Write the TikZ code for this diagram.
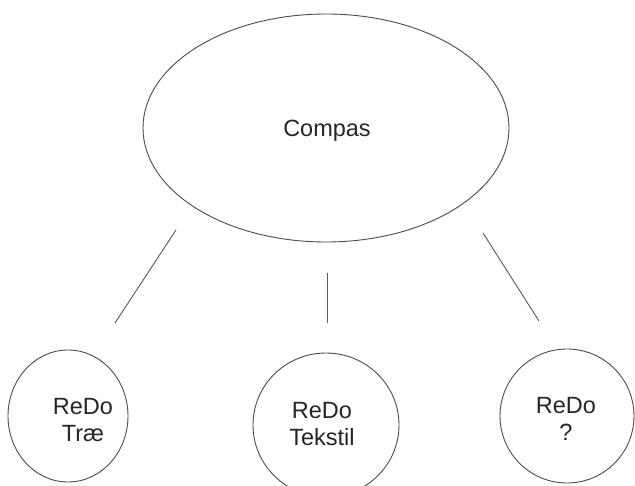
\documentclass[tikz,border=0pt]{standalone}
\usepackage{fontspec}
\setmainfont{Liberation Sans}
\usetikzlibrary{shapes.geometric}
\tikzset{
  shapeline/.style={draw=black!70, line width=0.9pt},
  bubble/.style={shapeline, ellipse, inner sep=0pt},
  lbl/.style={font=\fontsize{23.5}{27}\selectfont, text=black!85, align=center, inner sep=0pt},
  link/.style={draw=black!65, line width=0.9pt}
}
\begin{document}
\begin{tikzpicture}[x=1pt,y=-1pt]
\useasboundingbox (0,0) rectangle (635,486);
\fill[white] (0,0) rectangle (635,486);
% main ellipse
\node[bubble, minimum width=366pt, minimum height=228pt] (compas) at (326,128) {};
\node[lbl, anchor=base] (compastxt) at (327,137) {Compas};
% circles
\node[bubble, minimum width=120pt, minimum height=132pt] (c1) at (68,416) {};
\node[bubble, minimum width=146pt, minimum height=144pt] (c2) at (326,425) {};
\node[bubble, minimum width=134pt, minimum height=134pt] (c3) at (567,416) {};
\node[lbl] (t1) at (83,420) {ReDo\\Træ};
\node[lbl] (t2) at (322,424) {ReDo\\Tekstil};
\node[lbl] (t3) at (566,419) {ReDo\\?};
% connectors
\coordinate (l1a) at (176,230);
\coordinate (l1b) at (115,323);
\coordinate (l2a) at (327,273);
\coordinate (l2b) at (327,323);
\coordinate (l3a) at (483,233);
\coordinate (l3b) at (539,321);
\draw[link] (l1a) -- (l1b);
\draw[link] (l2a) -- (l2b);
\draw[link] (l3a) -- (l3b);
\end{tikzpicture}
\end{document}
